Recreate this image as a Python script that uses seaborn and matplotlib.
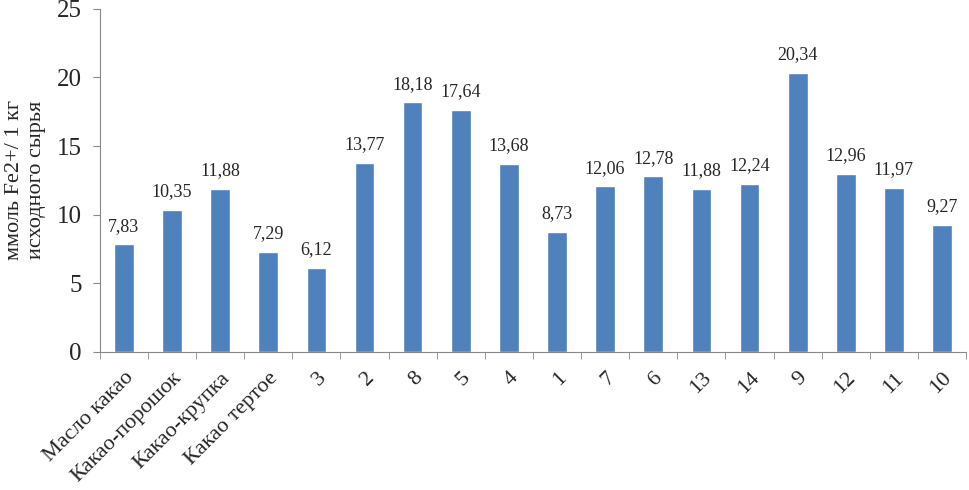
import numpy as np
import matplotlib.pyplot as plt
import seaborn as sns

# значения FRAP, ммоль Fe2+/1 кг
categories = ['Масло какао', 'Какао-порошок', 'Какао-крупка', 'Какао тертое',
              '3', '2', '8', '5', '4', '1', '7', '6', '13', '14', '9', '12', '11', '10']
values = [7.83, 10.35, 11.88, 7.29, 6.12, 13.77, 18.18, 17.64, 13.68,
          8.73, 12.06, 12.78, 11.88, 12.24, 20.34, 12.96, 11.97, 9.27]

sns.set_style('white')
plt.rcParams['font.family'] = ['Liberation Serif', 'DejaVu Serif']

fig = plt.figure(figsize=(9.69, 4.9), dpi=100)
ax = fig.add_axes([0.103, 0.282, 0.894, 0.70])

sns.barplot(x=categories, y=values, color='#4F81BD', saturation=1, width=0.41, ax=ax)

labels = [f'{v:.2f}'.replace('.', ',') for v in values]
ax.bar_label(ax.containers[0], labels=labels, padding=7, fontsize=13)

ax.set_xlim(-0.5, len(categories) - 0.5)
ax.set_ylim(0, 25)
ax.set_yticks(np.arange(0, 26, 5))
ax.tick_params(axis='y', labelsize=18, length=5, color='#888888', direction='out', left=True, pad=8)
ax.set_xticks(np.arange(len(categories)))
ax.set_xticklabels(categories, rotation=45, ha='right', rotation_mode='anchor', fontsize=16)
ax.set_xticks(np.arange(-0.5, len(categories)), minor=True)
ax.tick_params(axis='x', which='major', length=0, pad=12)
ax.tick_params(axis='x', which='minor', length=5, color='#888888', direction='out', bottom=True)

ax.set_ylabel('ммоль Fe2+/ 1 кг\nисходного сырья', fontsize=16, labelpad=8)

sns.despine(ax=ax)
for s in ['left', 'bottom']:
    ax.spines[s].set_color('#888888')

fig.savefig('out.png', dpi=100)
